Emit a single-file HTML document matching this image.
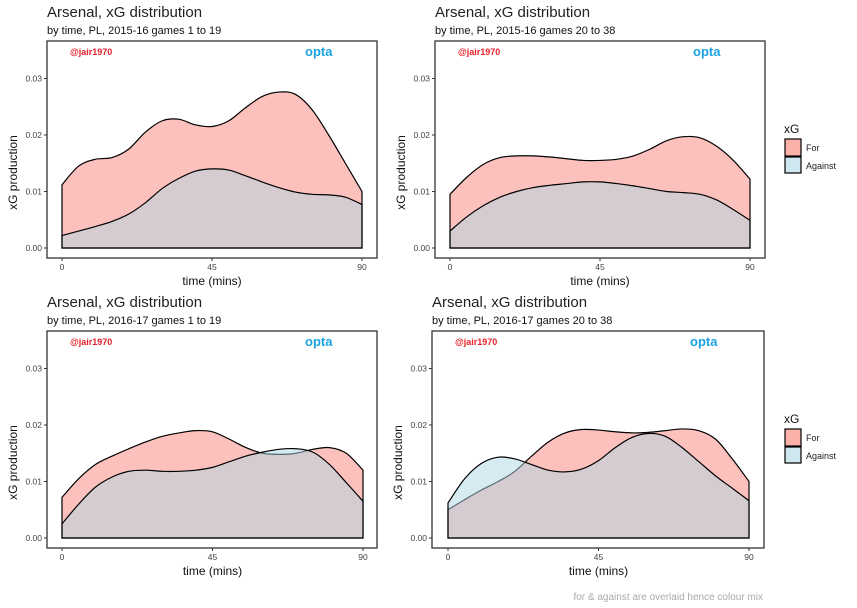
<!DOCTYPE html>
<html><head><meta charset="utf-8"><style>
body{margin:0;background:#fff;width:857px;height:608px;overflow:hidden}
svg{display:block;font-family:"Liberation Sans",sans-serif}
</style></head><body>
<svg id="chart" width="857" height="608" viewBox="0 0 857 608"></svg>
<script>
const times=[0,5,10,15,20,25,30,35,40,45,50,55,60,65,70,75,80,85,90];
const forP1=[0.0112,0.0145,0.0157,0.0160,0.0175,0.0205,0.0225,0.0228,0.0218,0.0215,0.0225,0.0248,0.0268,0.0276,0.0272,0.0245,0.0200,0.0150,0.0100];
const agP1=[0.0022,0.0030,0.0038,0.0047,0.0060,0.0080,0.0105,0.0123,0.0136,0.0140,0.0138,0.0128,0.0117,0.0107,0.0099,0.0095,0.0094,0.0090,0.0077];
const forP2=[0.0095,0.0125,0.0148,0.0160,0.0163,0.0163,0.0161,0.0158,0.0155,0.0155,0.0157,0.0163,0.0175,0.0190,0.0197,0.0195,0.0180,0.0155,0.0122];
const agP2=[0.0030,0.0055,0.0075,0.0090,0.0100,0.0107,0.0111,0.0114,0.0117,0.0117,0.0114,0.0110,0.0105,0.0100,0.0098,0.0095,0.0085,0.0068,0.0049];
const forP3=[0.0072,0.0105,0.0130,0.0145,0.0158,0.0170,0.0180,0.0186,0.0190,0.0188,0.0175,0.0160,0.0150,0.0148,0.0150,0.0157,0.0160,0.0150,0.0120];
const agP3=[0.0025,0.0060,0.0090,0.0108,0.0118,0.0120,0.0118,0.0118,0.0120,0.0125,0.0135,0.0145,0.0152,0.0157,0.0158,0.0152,0.0130,0.0098,0.0065];
const forP4=[0.0050,0.0068,0.0085,0.0100,0.0118,0.0145,0.0170,0.0186,0.0192,0.0191,0.0188,0.0186,0.0187,0.0190,0.0193,0.0190,0.0175,0.0140,0.0100];
const agP4=[0.0062,0.0105,0.0132,0.0143,0.0140,0.0130,0.0120,0.0117,0.0122,0.0137,0.0160,0.0178,0.0185,0.0180,0.0160,0.0135,0.0110,0.0088,0.0066];
const yTicks=[0,0.01,0.02,0.03];
const yTickLabels=["0.00","0.01","0.02","0.03"];
const xTicks=[0,45,90];
const subtitles=["by time, PL, 2015-16 games 1 to 19","by time, PL, 2015-16 games 20 to 38","by time, PL, 2016-17 games 1 to 19","by time, PL, 2016-17 games 20 to 38"];

const NS="http://www.w3.org/2000/svg";
const svg=document.getElementById('chart');
function mk(tag,attrs,parent,text){const e=document.createElementNS(NS,tag);for(const k in attrs)e.setAttribute(k,attrs[k]);if(text!==undefined)e.textContent=text;(parent||svg).appendChild(e);return e;}

const panels=[
 {bx:47,by:41,bw:330,bh:217,x0:62,x1:362,y0:248,forD:forP1,agD:agP1,legend:false},
 {bx:435,by:41,bw:330,bh:217,x0:450,x1:750,y0:248,forD:forP2,agD:agP2,legend:true},
 {bx:47,by:331,bw:330,bh:217,x0:62,x1:363,y0:538,forD:forP3,agD:agP3,legend:false},
 {bx:432,by:331,bw:332,bh:217,x0:448,x1:749,y0:538,forD:forP4,agD:agP4,legend:true}
];
const pxPer=5650;
function pathFor(p,data){
 const xs=t=>p.x0+(p.x1-p.x0)*t/90, ys=v=>p.y0-v*pxPer;
 const pts=times.map((t,i)=>[xs(t),ys(data[i])]);
 let d=`M${pts[0][0]},${p.y0} L${pts[0][0]},${pts[0][1]}`;
 for(let i=0;i<pts.length-1;i++){
  const a=pts[Math.max(0,i-1)],b=pts[i],c=pts[i+1],e=pts[Math.min(pts.length-1,i+2)];
  const c1=[b[0]+(c[0]-a[0])/6,b[1]+(c[1]-a[1])/6],c2=[c[0]-(e[0]-b[0])/6,c[1]-(e[1]-b[1])/6];
  d+=` C${c1[0]},${c1[1]} ${c2[0]},${c2[1]} ${c[0]},${c[1]}`;
 }
 d+=` L${pts[pts.length-1][0]},${p.y0} Z`;
 return d;
}
panels.forEach((p,i)=>{
 const g=mk('g',{});
 
 
 const t=mk('text',{x:p.bx,y:p.by-24,'font-size':15,fill:'#222'},g,'Arsenal, xG distribution');
 
 const s=mk('text',{x:p.bx,y:p.by-7,'font-size':11,fill:'#111'},g,subtitles[i]);
 
 const fa=mk('path',{d:pathFor(p,p.forD),fill:'#F8766D','fill-opacity':0.45,stroke:'#000','stroke-width':1.2},g);
 
 const aa=mk('path',{d:pathFor(p,p.agD),fill:'#ADD8E6','fill-opacity':0.5,stroke:'#000','stroke-width':1.2},g);
 
 const box=mk('rect',{x:p.bx,y:p.by,width:p.bw,height:p.bh,fill:'none',stroke:'#333','stroke-width':1.3},g);
 
 const w=mk('text',{x:p.bx+23,y:p.by+14,'font-size':9,'font-weight':'bold',fill:'#e8202a'},g,'@jair1970');
 
 const o=mk('text',{x:p.bx+258,y:p.by+15,'font-size':13,'font-weight':'bold',fill:'#1aa3e0'},g,'opta');
 
 yTicks.forEach((v,k)=>{
  const y=p.y0-v*pxPer;
  mk('line',{x1:p.bx-3,x2:p.bx,y1:y,y2:y,stroke:'#333'},g);
  const l=mk('text',{x:p.bx-5,y:y+3,'font-size':8.5,fill:'#444','text-anchor':'end'},g,yTickLabels[k]);
  
 });
 xTicks.forEach(v=>{
  const x=p.x0+(p.x1-p.x0)*v/90;
  mk('line',{x1:x,x2:x,y1:p.by+p.bh,y2:p.by+p.bh+3,stroke:'#333'},g);
  const l=mk('text',{x:x,y:p.by+p.bh+12,'font-size':8.5,fill:'#444','text-anchor':'middle'},g,String(v));
  
 });
 const xt=mk('text',{x:(p.x0+p.x1)/2,y:p.by+p.bh+27,'font-size':12,fill:'#111','text-anchor':'middle'},g,'time (mins)');
 
 const cy=p.by+p.bh/2+23;
 const yt=mk('text',{x:p.bx-30,y:cy,'font-size':12,fill:'#111','text-anchor':'middle',transform:`rotate(-90 ${p.bx-30} ${cy})`},g,'xG production');
 
 if(p.legend){
  const ly=p.by+87;
  const lg=mk('g',{},g);
  
  mk('text',{x:784,y:ly+5,'font-size':12,fill:'#111'},lg,'xG');
  const r1=mk('rect',{x:785,y:ly+11,width:16,height:17,fill:'#fbb0a8',stroke:'#000','stroke-width':1.2},lg);
  
  const r2=mk('rect',{x:785,y:ly+29,width:16,height:16,fill:'#cfe8ef',stroke:'#000','stroke-width':1.2},lg);
  
  const l1=mk('text',{x:806,y:ly+23,'font-size':9,fill:'#222'},lg,'For');
  
  const l2=mk('text',{x:806,y:ly+41,'font-size':9,fill:'#222'},lg,'Against');
  
 }
});
const cap=mk('text',{x:763,y:600,'font-size':10,fill:'#aaa','text-anchor':'end'},svg,'for & against are overlaid hence colour mix');


</script>
</body></html>
